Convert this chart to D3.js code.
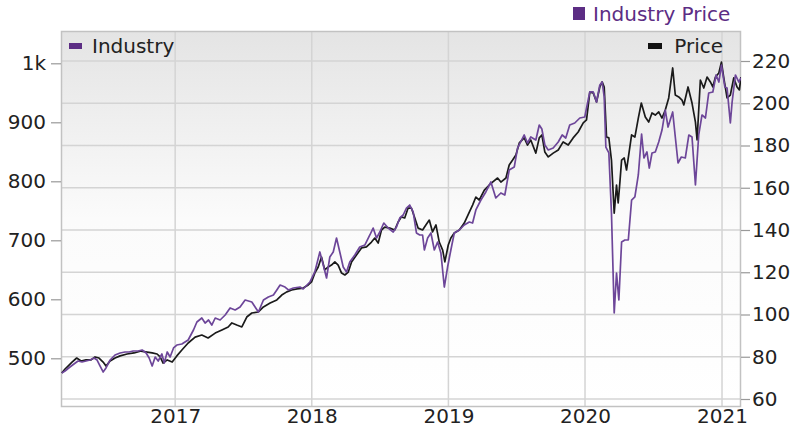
<!DOCTYPE html>
<html><head><meta charset="utf-8">
<script src="https://cdn.jsdelivr.net/npm/d3@7"></script>
<style>
body{margin:0;background:#fff}
svg text{font-family:"DejaVu Sans",Verdana,sans-serif}
</style>
</head><body>
<svg id="chart" width="794" height="435"></svg>
<script>
// ---- data (decimal years) ----
const priceT = [2016.172,2016.196,2016.218,2016.247,2016.281,2016.313,2016.349,2016.386,2016.415,2016.444,2016.474,2016.495,2016.525,2016.561,2016.598,2016.649,2016.700,2016.751,2016.795,2016.832,2016.868,2016.890,2016.912,2016.942,2016.978,2017.012,2017.049,2017.095,2017.146,2017.195,2017.241,2017.293,2017.342,2017.388,2017.415,2017.451,2017.488,2017.524,2017.561,2017.609,2017.646,2017.695,2017.744,2017.780,2017.817,2017.853,2017.892,2017.937,2017.974,2017.998,2018.022,2018.047,2018.071,2018.095,2018.120,2018.144,2018.169,2018.193,2018.218,2018.242,2018.267,2018.291,2018.327,2018.364,2018.400,2018.437,2018.461,2018.486,2018.510,2018.534,2018.571,2018.607,2018.632,2018.656,2018.680,2018.705,2018.729,2018.754,2018.778,2018.811,2018.835,2018.860,2018.884,2018.909,2018.933,2018.958,2018.974,2018.999,2019.018,2019.043,2019.080,2019.116,2019.153,2019.177,2019.201,2019.226,2019.263,2019.299,2019.323,2019.360,2019.384,2019.421,2019.445,2019.470,2019.494,2019.519,2019.555,2019.579,2019.603,2019.640,2019.665,2019.684,2019.706,2019.731,2019.767,2019.804,2019.840,2019.877,2019.913,2019.950,2019.987,2020.011,2020.035,2020.060,2020.084,2020.108,2020.125,2020.140,2020.157,2020.174,2020.193,2020.213,2020.230,2020.242,2020.254,2020.267,2020.286,2020.303,2020.340,2020.364,2020.389,2020.411,2020.440,2020.465,2020.489,2020.513,2020.538,2020.562,2020.586,2020.611,2020.640,2020.659,2020.684,2020.708,2020.721,2020.752,2020.781,2020.806,2020.818,2020.842,2020.867,2020.891,2020.915,2020.933,2020.952,2020.977,2020.996,2021.013,2021.037,2021.061,2021.086,2021.110,2021.127,2021.139];
const priceV = [72.3,74.2,75.6,77.5,79.4,78.0,78.5,78.5,79.9,79.4,77.5,75.6,78.0,79.4,80.4,81.3,81.8,82.7,82.2,81.8,81.3,79.9,77.0,78.5,77.5,80.4,83.2,86.5,89.3,90.3,88.9,91.2,92.7,94.1,96.0,95.0,94.1,98.8,100.7,101.2,103.6,105.4,106.9,109.2,110.7,111.6,112.1,112.5,114.0,115.4,119.6,122.5,127.2,121.1,122.5,123.4,124.9,123.4,119.6,118.7,120.1,124.9,128.2,131.5,132.0,134.3,136.2,133.8,140.0,141.4,140.9,140.0,143.8,146.2,145.7,150.4,150.4,145.7,140.9,140.0,142.4,144.7,139.1,142.4,134.3,130.5,124.9,132.9,136.2,138.6,140.0,143.3,148.5,151.8,155.6,154.2,158.9,161.3,162.7,164.6,162.7,164.6,170.8,173.1,175.5,181.2,183.6,180.2,182.6,176.4,183.6,185.0,176.9,174.6,176.4,177.9,181.7,180.2,183.6,186.4,190.7,192.1,205.3,204.9,200.6,207.7,210.1,207.7,184.0,183.6,173.1,148.0,161.3,152.8,162.2,173.1,174.1,168.4,185.0,184.0,193.0,200.1,193.5,191.1,195.4,194.4,195.9,193.0,196.8,202.5,216.7,203.9,203.0,201.5,199.2,207.7,200.1,191.1,182.6,211.0,207.2,212.4,210.1,207.7,212.4,214.3,219.5,212.0,202.5,203.9,212.0,207.7,206.3,212.4];

const industryT = [2016.172,2016.196,2016.232,2016.261,2016.291,2016.320,2016.349,2016.378,2016.408,2016.430,2016.452,2016.474,2016.495,2016.525,2016.561,2016.598,2016.634,2016.664,2016.693,2016.729,2016.759,2016.788,2016.810,2016.832,2016.854,2016.876,2016.903,2016.920,2016.942,2016.963,2016.988,2017.012,2017.049,2017.095,2017.134,2017.159,2017.195,2017.219,2017.244,2017.268,2017.293,2017.329,2017.366,2017.402,2017.439,2017.475,2017.512,2017.561,2017.585,2017.609,2017.646,2017.682,2017.719,2017.744,2017.768,2017.804,2017.829,2017.865,2017.914,2017.937,2017.986,2018.022,2018.059,2018.084,2018.108,2018.132,2018.157,2018.181,2018.205,2018.230,2018.254,2018.278,2018.315,2018.351,2018.388,2018.425,2018.449,2018.474,2018.498,2018.527,2018.559,2018.596,2018.620,2018.644,2018.669,2018.693,2018.717,2018.742,2018.766,2018.790,2018.811,2018.824,2018.848,2018.872,2018.897,2018.921,2018.945,2018.970,2018.994,2019.018,2019.043,2019.080,2019.116,2019.153,2019.177,2019.201,2019.238,2019.274,2019.311,2019.347,2019.384,2019.413,2019.445,2019.482,2019.506,2019.555,2019.579,2019.603,2019.640,2019.665,2019.684,2019.706,2019.731,2019.767,2019.804,2019.833,2019.859,2019.888,2019.925,2019.962,2019.998,2020.023,2020.035,2020.060,2020.084,2020.108,2020.125,2020.140,2020.152,2020.174,2020.193,2020.213,2020.230,2020.247,2020.267,2020.291,2020.316,2020.340,2020.364,2020.389,2020.413,2020.430,2020.452,2020.469,2020.489,2020.513,2020.538,2020.562,2020.586,2020.606,2020.640,2020.659,2020.679,2020.703,2020.732,2020.758,2020.781,2020.806,2020.830,2020.854,2020.879,2020.903,2020.933,2020.957,2020.977,2020.996,2021.021,2021.037,2021.061,2021.074,2021.098,2021.123,2021.139];
const industryV = [475.1,478.5,485.3,490.3,495.4,493.7,495.4,497.1,500.5,497.1,486.9,476.8,483.6,497.1,505.6,509.0,510.7,510.7,512.4,512.4,514.1,509.0,500.5,486.9,502.2,495.4,507.3,492.0,510.7,502.2,517.5,522.5,524.2,531.0,548.0,561.5,568.3,559.8,564.9,556.4,568.3,564.9,573.4,585.3,581.9,586.9,598.8,595.4,586.9,578.5,598.8,603.9,607.3,615.8,624.2,620.8,615.8,619.2,620.8,617.5,629.3,646.3,680.2,658.1,636.1,671.7,680.2,703.9,680.2,654.7,646.3,663.2,675.1,688.6,692.0,709.0,720.8,703.9,714.1,729.3,720.8,714.1,722.5,737.8,742.9,754.7,759.8,748.0,712.4,709.0,709.0,683.6,703.9,712.4,683.6,697.1,678.5,620.8,654.7,683.6,712.4,717.5,725.9,731.0,729.3,751.4,768.3,781.9,798.8,771.7,780.2,776.8,819.1,824.2,856.4,878.5,864.9,875.1,870.0,895.4,888.6,861.5,853.1,856.4,866.6,878.5,873.4,895.4,898.8,907.3,909.0,937.8,951.4,951.4,934.4,963.2,968.3,942.9,858.1,848.0,746.3,576.8,644.6,598.8,697.1,700.5,700.5,768.3,773.4,810.7,880.2,839.5,849.7,822.5,848.0,849.7,866.6,886.9,920.8,892.0,917.5,875.1,831.0,841.2,839.5,878.5,875.1,793.7,878.5,912.4,907.3,949.7,951.4,980.2,968.3,997.1,959.8,958.1,898.8,934.4,980.2,968.3,975.1];

const yearTicks = [2017,2018,2019,2020,2021];
const leftTicks = [500,600,700,800,900,1000];
const rightTicks = [60,80,100,120,140,160,180,200,220];
const xDomain = [2016.1665,2021.139];
const leftDomain = [500,1000];
const rightDomain = [60,220];
const titleText = "Industry Price";
const legendLeft = "Industry";
const legendRight = "Price";

// ---- helpers ----
function toDate(t){
  const y = Math.floor(t);
  const s = new Date(y,0,1), e = new Date(y+1,0,1);
  return new Date(+s + (t-y)*(e-s));
}

const L=61,R=741,T=31,B=407;
const FONT = "'DejaVu Sans',Verdana,sans-serif";
const svg = d3.select("#chart");

const x = d3.scaleTime().domain(xDomain.map(toDate)).range([L,R]);
const yR = d3.scaleLinear().domain(rightDomain).range([399,61]);
const yL = d3.scaleLinear().domain(leftDomain).range([358.3,63.3]);

const defs = svg.append("defs");
const grad = defs.append("linearGradient").attr("id","bg").attr("x1",0).attr("y1",0).attr("x2",0).attr("y2",1);
grad.append("stop").attr("offset","0%").attr("stop-color","#e4e4e4");
grad.append("stop").attr("offset","50%").attr("stop-color","#fbfbfb");
grad.append("stop").attr("offset","100%").attr("stop-color","#ffffff");
defs.append("clipPath").attr("id","clip").append("rect").attr("x",L).attr("y",T).attr("width",R-L).attr("height",B-T);

svg.append("rect").attr("x",L).attr("y",T).attr("width",R-L).attr("height",B-T).attr("fill","url(#bg)");

// gridlines
const grid = svg.append("g").attr("stroke","#d4d4d4").attr("stroke-width",1.5);
grid.selectAll(".h").data(rightTicks).join("line")
  .attr("x1",L).attr("x2",R).attr("y1",d=>yR(d)).attr("y2",d=>yR(d));
grid.selectAll(".v").data(yearTicks).join("line")
  .attr("y1",T).attr("y2",B).attr("x1",d=>x(toDate(d))).attr("x2",d=>x(toDate(d)));

// frame
svg.append("rect").attr("x",L+0.5).attr("y",T+0.5).attr("width",R-L-1).attr("height",B-T-1)
  .attr("fill","none").attr("stroke","#c2c2c2").attr("stroke-width",1.5);

// axes
const fmtL = d3.format("~s");
const axL = svg.append("g").attr("transform",`translate(${L},0)`)
  .call(d3.axisLeft(yL).tickValues(leftTicks).tickFormat(fmtL).tickSize(10).tickPadding(5));
const axR = svg.append("g").attr("transform",`translate(${R},0)`)
  .call(d3.axisRight(yR).tickValues(rightTicks).tickSize(9).tickPadding(2));
const axB = svg.append("g").attr("transform",`translate(0,${B})`)
  .call(d3.axisBottom(x).tickValues(yearTicks.map(toDate)).tickFormat(d3.timeFormat("%Y")).tickSize(0).tickPadding(0));
[axL,axR,axB].forEach(a=>{
  a.select(".domain").remove();
  a.selectAll(".tick line").attr("stroke","#999").attr("stroke-width",1.2);
  a.selectAll(".tick text").attr("fill","#222").style("font-size","20px").style("font-family",FONT);
});
axB.selectAll(".tick text").attr("dy","0.78em");

// lines
const plot = svg.append("g").attr("clip-path","url(#clip)");
const price = priceT.map((t,i)=>({d:toDate(t),v:priceV[i]}));
const industry = industryT.map((t,i)=>({d:toDate(t),v:industryV[i]}));
plot.append("path").datum(price).attr("fill","none").attr("stroke","#1a1a1a").attr("stroke-width",1.7)
  .attr("stroke-linejoin","round").attr("d",d3.line().x(p=>x(p.d)).y(p=>yR(p.v)));
plot.append("path").datum(industry).attr("fill","none").attr("stroke","#6d4699").attr("stroke-width",1.7)
  .attr("stroke-linejoin","round").attr("d",d3.line().x(p=>x(p.d)).y(p=>yL(p.v)));

// legends
svg.append("rect").attr("x",573).attr("y",7).attr("width",12).attr("height",13).attr("fill","#5c2d84");
svg.append("text").attr("x",593).attr("y",21).attr("fill","#5c2d84").style("font-size","20px").style("font-family",FONT).text(titleText);

svg.append("rect").attr("x",69).attr("y",43).attr("width",13).attr("height",6).attr("fill","#5c2d84");
svg.append("text").attr("x",92).attr("y",53).attr("fill","#222").style("font-size","20px").style("font-family",FONT).text(legendLeft);
svg.append("rect").attr("x",648).attr("y",43).attr("width",14).attr("height",6).attr("fill","#111");
svg.append("text").attr("x",723).attr("y",53).attr("text-anchor","end").attr("fill","#222").style("font-size","20px").style("font-family",FONT).text(legendRight);
</script>
</body></html>
